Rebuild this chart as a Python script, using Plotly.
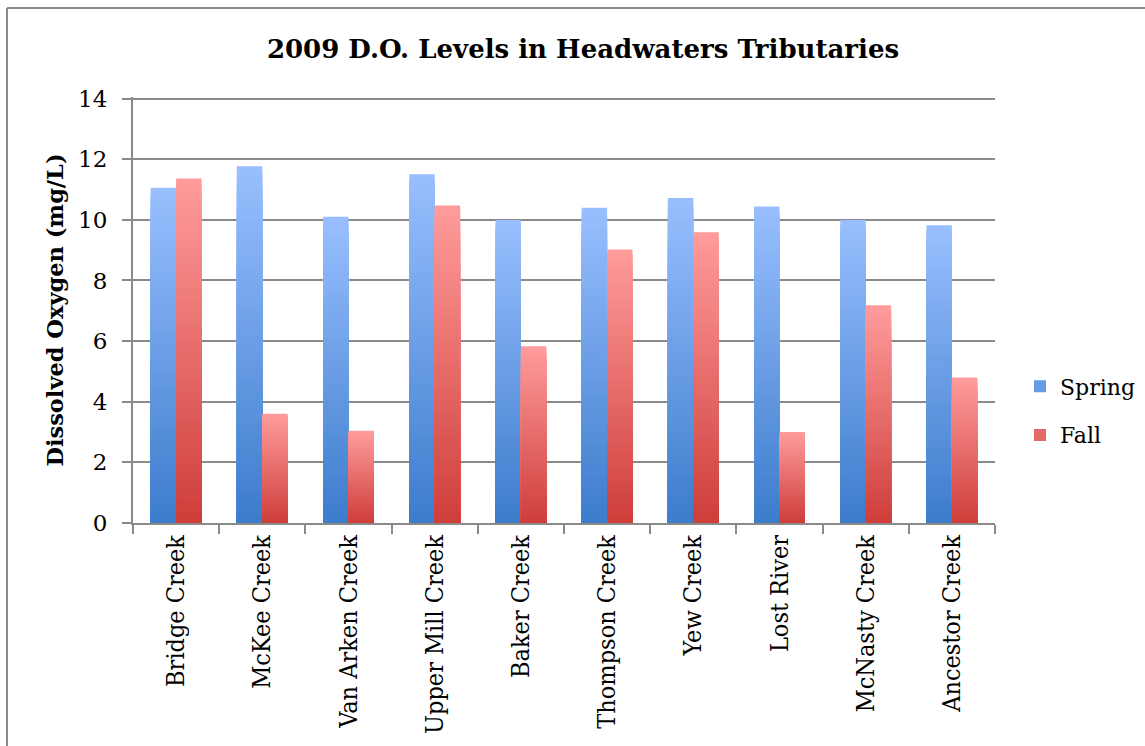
import plotly.graph_objects as go

# Dissolved oxygen readings (mg/L) per tributary, spring and fall 2009
creeks = [
    "Bridge Creek", "McKee Creek", "Van Arken Creek", "Upper Mill Creek",
    "Baker Creek", "Thompson Creek", "Yew Creek", "Lost River",
    "McNasty Creek", "Ancestor Creek",
]
spring = [11.06, 11.77, 10.10, 11.50, 9.99, 10.40, 10.72, 10.44, 9.99, 9.82]
fall = [11.36, 3.60, 3.04, 10.47, 5.83, 9.02, 9.59, 3.00, 7.18, 4.80]
y_ticks = [0, 2, 4, 6, 8, 10, 12, 14]

FONT = "DejaVu Serif"
FONT_NARROW = "DejaVu Serif Condensed, DejaVu Serif"
GRID = "#8a8a8a"

# bottom -> top colour stops for each series' vertical gradient
series = [
    ("Spring", spring, (60, 124, 204), (153, 191, 255)),
    ("Fall", fall, (206, 62, 58), (255, 156, 156)),
]
STEPS = 60


def mix(c0, c1, t):
    return "rgb({},{},{})".format(*[round(a + (b - a) * t) for a, b in zip(c0, c1)])


fig = go.Figure()
for name, values, bottom, top in series:
    # nested bars from the baseline: tallest (lightest) first, each shorter,
    # darker one drawn over it, giving a seamless vertical gradient
    for k in range(STEPS):
        frac = 1 - k / STEPS
        t = frac - 0.5 / STEPS
        fig.add_trace(go.Bar(
            x=creeks,
            y=[v * frac for v in values],
            offsetgroup=name,
            legendgroup=name,
            name=name,
            showlegend=False,
            marker=dict(color=mix(bottom, top, t), line=dict(width=0)),
            hoverinfo="skip",
        ))
    # legend swatch
    fig.add_trace(go.Bar(
        x=[creeks[0]], y=[None], offsetgroup=name, legendgroup=name,
        name=name, showlegend=True,
        marker=dict(color=mix(bottom, top, 0.45), line=dict(width=0)),
    ))

L, R, T, B = 133, 150, 97, 223
W, H = 1145, 746
pw, ph = W - L - R, H - T - B
Y_TOP = 14.05

fig.update_layout(
    width=W, height=H,
    margin=dict(l=L, r=R, t=T, b=B, autoexpand=False),
    barmode="group",
    bargap=0.41,
    bargroupgap=0,
    paper_bgcolor="white",
    plot_bgcolor="white",
    font=dict(family=FONT, color="black", size=21),
    title=dict(
        text="<b>2009 D.O. Levels in Headwaters Tributaries</b>",
        x=583 / W, xanchor="center", xref="container",
        y=1 - 49 / H, yanchor="middle",
        font=dict(family=FONT, size=26, color="black"),
    ),
    showlegend=True,
    legend=dict(
        x=(1020 - L) / pw, xanchor="left",
        y=(523 - 411) / ph, yanchor="middle",
        font=dict(family=FONT, size=22, color="black"),
        tracegroupgap=17,
        bgcolor="rgba(0,0,0,0)",
        itemclick=False,
    ),
    xaxis=dict(
        type="category",
        showline=True, linecolor=GRID, linewidth=2,
        ticks="outside", tickson="boundaries", ticklen=9,
        tickcolor=GRID, tickwidth=1.5,
        tickangle=-90,
        tickfont=dict(family=FONT_NARROW, size=25, color="black"),
        showgrid=False,
    ),
    yaxis=dict(
        range=[0, Y_TOP],
        tickvals=y_ticks,
        showline=True, linecolor=GRID, linewidth=2,
        ticks="outside", ticklen=9, tickcolor=GRID, tickwidth=1.5,
        ticklabelstandoff=10,
        showgrid=True, gridcolor=GRID, gridwidth=1.5,
        zeroline=False,
        tickfont=dict(family=FONT, size=23, color="black"),
        title=dict(
            text="<b>Dissolved Oxygen (mg/L)</b>",
            font=dict(family=FONT, size=22.5, color="black"),
            standoff=8,
        ),
    ),
    shapes=[
        # outer chart frame (top and left edges)
        dict(type="line", xref="paper", yref="paper",
             x0=(7 - L) / pw, x1=(W + 5 - L) / pw,
             y0=(H - B - 8) / ph, y1=(H - B - 8) / ph,
             line=dict(color="#8a8a8a", width=2)),
        dict(type="line", xref="paper", yref="paper",
             x0=(7 - L) / pw, x1=(7 - L) / pw,
             y0=(H - B - 8) / ph, y1=(H - B - H - 5) / ph,
             line=dict(color="#8a8a8a", width=2)),
    ],
)

fig.write_html("out.html")
